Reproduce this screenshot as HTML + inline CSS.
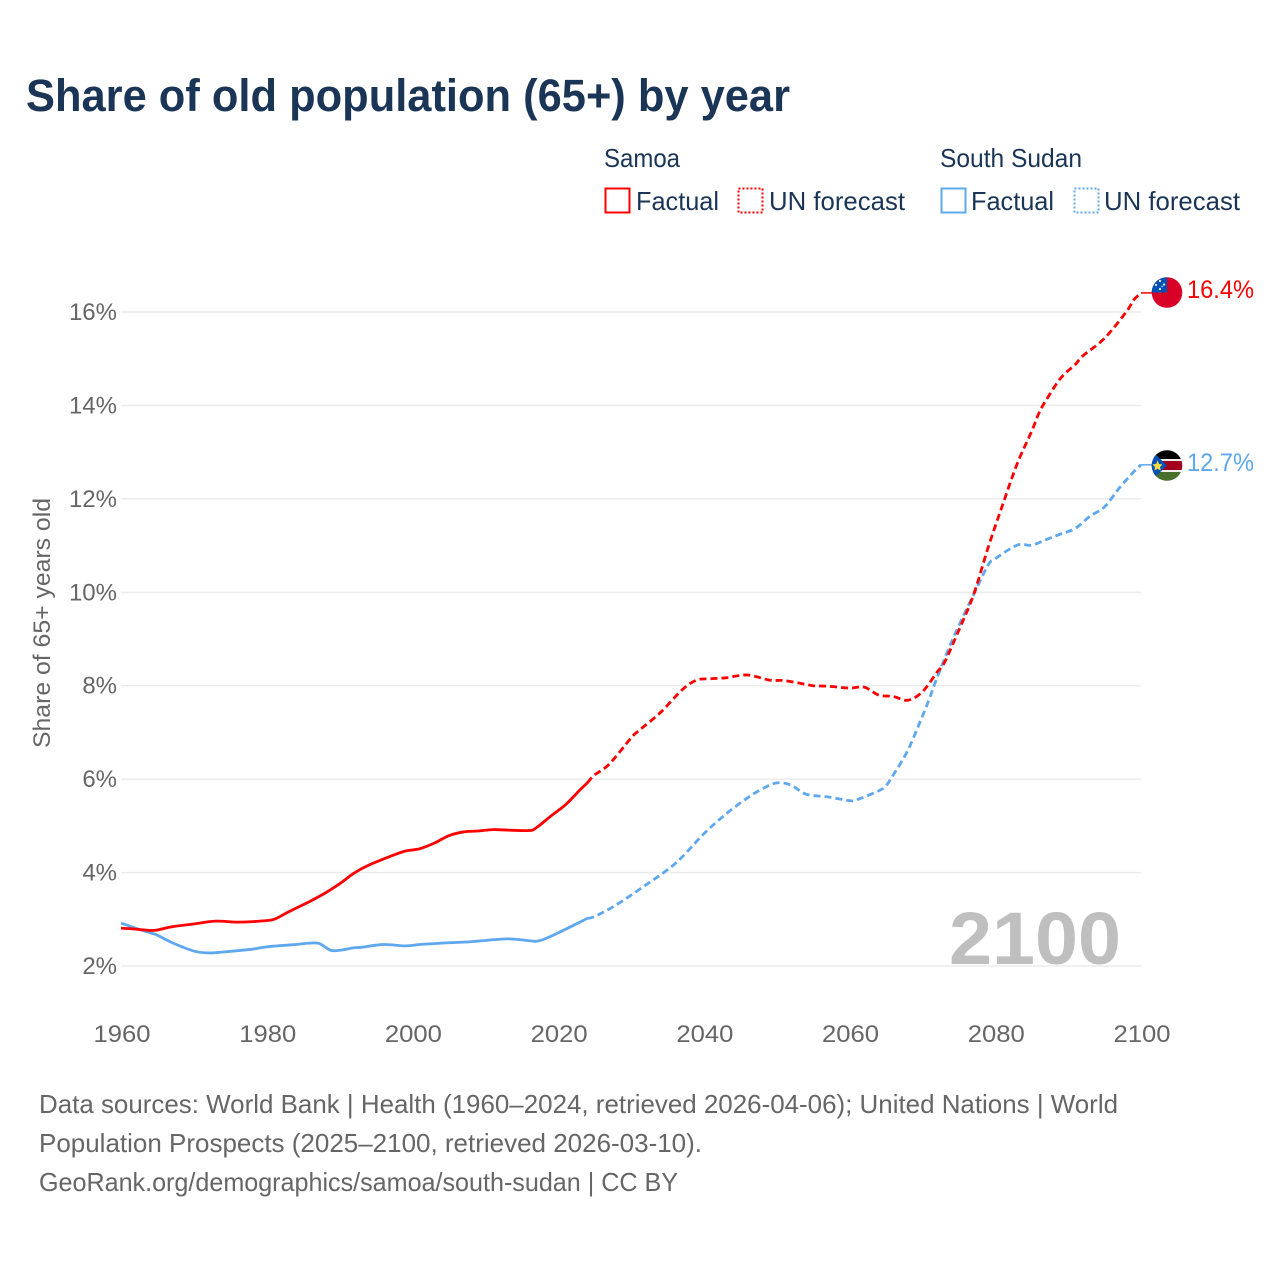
<!DOCTYPE html>
<html lang="en">
<head>
<meta charset="utf-8">
<title>Share of old population (65+) by year</title>
<style>
html,body{margin:0;padding:0;background:#fff}
svg{display:block}
text{font-family:"Liberation Sans",sans-serif}
</style>
</head>
<body>
<svg id="chart" xmlns="http://www.w3.org/2000/svg" width="1280" height="1280" viewBox="0 0 1280 1280">
  <rect width="1280" height="1280" fill="#fff"/>
  <text x="26" y="111" font-size="45" font-weight="700" fill="#1a3556" textLength="764" lengthAdjust="spacingAndGlyphs">Share of old population (65+) by year</text>

  <g font-size="26" fill="#1a3556">
    <text x="604" y="167" textLength="76" lengthAdjust="spacingAndGlyphs">Samoa</text>
    <text x="940" y="167" textLength="142" lengthAdjust="spacingAndGlyphs">South Sudan</text>
    <rect x="605.5" y="188.5" width="24" height="24" fill="none" stroke="#ff0000" stroke-width="2"/>
    <text x="636" y="210" textLength="83" lengthAdjust="spacingAndGlyphs">Factual</text>
    <rect x="738.5" y="188.5" width="24" height="24" fill="none" stroke="#ff0000" stroke-width="2" stroke-dasharray="2 2"/>
    <text x="769" y="210" textLength="136" lengthAdjust="spacingAndGlyphs">UN forecast</text>
    <rect x="941.5" y="188.5" width="24" height="24" fill="none" stroke="#5fa8ee" stroke-width="2"/>
    <text x="971" y="210" textLength="83" lengthAdjust="spacingAndGlyphs">Factual</text>
    <rect x="1074.5" y="188.5" width="24" height="24" fill="none" stroke="#5fa8ee" stroke-width="2" stroke-dasharray="2 2"/>
    <text x="1104" y="210" textLength="136" lengthAdjust="spacingAndGlyphs">UN forecast</text>
  </g>

  <g id="grid"></g>
  <g id="yticks" font-size="24" fill="#666"></g>
  <g id="xticks" font-size="24" fill="#666"></g>
  <text transform="translate(50,623) rotate(-90)" text-anchor="middle" font-size="24" fill="#666" textLength="250" lengthAdjust="spacingAndGlyphs">Share of 65+ years old</text>
  <text x="949" y="964" font-size="74" font-weight="700" fill="#bfbfbf" textLength="172" lengthAdjust="spacingAndGlyphs">2100</text>

  <g id="series"></g>

  <g>
    <clipPath id="clip-ws"><circle cx="1167" cy="292.5" r="15.3"/></clipPath>
    <g clip-path="url(#clip-ws)">
      <rect x="1150" y="275" width="34" height="35" fill="#d80027"/>
      <rect x="1150" y="275" width="17" height="17.5" fill="#0052b4"/>
      <g fill="#f0f0f0">
        <circle cx="1160" cy="281" r="1.1"/><circle cx="1156" cy="285" r="1.1"/><circle cx="1164" cy="284.5" r="1.1"/><circle cx="1160" cy="289" r="1.1"/><circle cx="1162" cy="286.5" r=".7"/>
      </g>
    </g>
  </g>
  <g>
    <clipPath id="clip-ss"><circle cx="1167" cy="465.5" r="15.3"/></clipPath>
    <g clip-path="url(#clip-ss)">
      <rect x="1150" y="448" width="34" height="35" fill="#f0f0f0"/>
      <rect x="1150" y="448" width="34" height="11" fill="#000"/>
      <rect x="1150" y="461" width="34" height="9" fill="#a2001d"/>
      <rect x="1150" y="472" width="34" height="11" fill="#496e2d"/>
      <polygon points="1151,450 1167,465.5 1151,481" fill="#0052b4"/>
      <polygon points="1157.5,460.5 1159,464 1162.5,464.5 1160,467 1160.8,470.5 1157.5,468.7 1154.5,470.5 1155,467 1152.5,464.5 1156,464" fill="#ffda44"/>
    </g>
  </g>

  <text x="1187" y="298" font-size="25" fill="#ff0000" textLength="67" lengthAdjust="spacingAndGlyphs">16.4%</text>
  <text x="1187" y="471" font-size="25" fill="#5fa8ee" textLength="67" lengthAdjust="spacingAndGlyphs">12.7%</text>

  <g font-size="26" fill="#666">
    <text x="39" y="1113" textLength="1079" lengthAdjust="spacingAndGlyphs">Data sources: World Bank | Health (1960–2024, retrieved 2026-04-06); United Nations | World</text>
    <text x="39" y="1152" textLength="663" lengthAdjust="spacingAndGlyphs">Population Prospects (2025–2100, retrieved 2026-03-10).</text>
    <text x="39" y="1191" textLength="639" lengthAdjust="spacingAndGlyphs">GeoRank.org/demographics/samoa/south-sudan | CC BY</text>
  </g>
</svg>
<script>
const yTickValues = [2, 4, 6, 8, 10, 12, 14, 16];
const xTickYears = [1960, 1980, 2000, 2020, 2040, 2060, 2080, 2100];

const samoaFactualYears = [1960,1962,1964,1965,1967,1970,1973,1976,1979,1981,1983,1986,1988,1990,1992,1994,1997,1999,2001,2003,2005,2007,2009,2011,2013,2016,2017,2019,2021,2023,2024];
const samoaFactualValues = [2.81,2.79,2.76,2.77,2.84,2.90,2.96,2.94,2.96,3.00,3.16,3.39,3.56,3.76,3.99,4.16,4.35,4.46,4.51,4.63,4.79,4.87,4.89,4.92,4.91,4.90,4.96,5.21,5.45,5.77,5.92];

const samoaForecastYears = [2024,2025,2027,2030,2031,2034,2037,2039,2041,2043,2046,2049,2051,2054,2055,2057,2060,2062,2064,2066,2068,2070,2072,2073,2075,2077,2079,2081,2083,2085,2086,2087,2089,2091,2092,2095,2098,2099,2100];
const samoaForecastValues = [5.92,6.09,6.32,6.88,7.03,7.42,7.91,8.12,8.15,8.17,8.23,8.12,8.11,8.03,8.00,7.99,7.95,7.97,7.80,7.77,7.69,7.87,8.29,8.49,9.19,9.94,10.95,11.87,12.75,13.45,13.84,14.12,14.59,14.88,15.06,15.44,16.01,16.26,16.41];

const sudanFactualYears = [1960,1962,1964,1965,1967,1970,1972,1974,1978,1980,1984,1987,1989,1992,1993,1996,1999,2001,2004,2008,2013,2016,2017,2018,2020,2023,2024];
const sudanFactualValues = [2.92,2.81,2.71,2.66,2.50,2.32,2.28,2.30,2.36,2.41,2.46,2.49,2.33,2.39,2.40,2.46,2.43,2.46,2.49,2.52,2.58,2.54,2.53,2.57,2.71,2.94,3.02];

const sudanForecastYears = [2024,2025,2028,2032,2035,2037,2040,2043,2046,2048,2050,2052,2054,2057,2060,2061,2064,2065,2066,2068,2070,2071,2072,2074,2076,2077,2079,2080,2083,2085,2087,2089,2091,2093,2095,2097,2099,2100];
const sudanForecastValues = [3.02,3.06,3.31,3.73,4.06,4.33,4.83,5.25,5.60,5.79,5.92,5.87,5.68,5.62,5.54,5.56,5.75,5.86,6.09,6.62,7.35,7.74,8.17,8.94,9.62,9.94,10.58,10.72,11.01,11.01,11.13,11.25,11.37,11.63,11.83,12.23,12.58,12.73];

const NS = 'http://www.w3.org/2000/svg';
const plotLeft = 121, plotRight = 1141, yearMin = 1960, yearMax = 2100;
const baseY = 966, pxPerPercent = 46.71;
function xScale(year) { return plotLeft + (year - yearMin) * (plotRight - plotLeft) / (yearMax - yearMin); }
function yScale(value) { return baseY - (value - 2) * pxPerPercent; }

function smoothPath(years, values) {
  const pts = years.map((yr, i) => [xScale(yr), yScale(values[i])]);
  let d = 'M' + pts[0][0].toFixed(2) + ' ' + pts[0][1].toFixed(2);
  for (let i = 0; i < pts.length - 1; i++) {
    const p0 = pts[Math.max(0, i - 1)], p1 = pts[i], p2 = pts[i + 1], p3 = pts[Math.min(pts.length - 1, i + 2)];
    const c1x = p1[0] + (p2[0] - p0[0]) / 6, c1y = p1[1] + (p2[1] - p0[1]) / 6;
    const c2x = p2[0] - (p3[0] - p1[0]) / 6, c2y = p2[1] - (p3[1] - p1[1]) / 6;
    d += 'C' + [c1x, c1y, c2x, c2y, p2[0], p2[1]].map(n => n.toFixed(2)).join(' ');
  }
  return d;
}

const gridGroup = document.getElementById('grid');
const yGroup = document.getElementById('yticks');
yTickValues.forEach(v => {
  const line = document.createElementNS(NS, 'line');
  
  
  line.setAttribute('x1', plotLeft);
  line.setAttribute('x2', plotRight);
  line.setAttribute('y1', yScale(v));
  line.setAttribute('y2', yScale(v));
  line.setAttribute('stroke', '#ececec');
  line.setAttribute('stroke-width', '1.5');
  gridGroup.appendChild(line);
  const label = document.createElementNS(NS, 'text');
  
  
  label.setAttribute('x', 117);
  label.setAttribute('y', yScale(v) + 8);
  label.setAttribute('text-anchor', 'end');
  label.textContent = v + '%';
  yGroup.appendChild(label);
});

const xGroup = document.getElementById('xticks');
xTickYears.forEach(yr => {
  const label = document.createElementNS(NS, 'text');
  
  
  label.setAttribute('x', xScale(yr) + 1);
  label.setAttribute('y', 1042);
  label.setAttribute('text-anchor', 'middle');
  label.setAttribute('textLength', '57');
  label.setAttribute('lengthAdjust', 'spacingAndGlyphs');
  label.textContent = yr;
  xGroup.appendChild(label);
});

const seriesGroup = document.getElementById('series');
function addLine(name, years, values, color, dashed) {
  const path = document.createElementNS(NS, 'path');
  
  
  path.setAttribute('d', smoothPath(years, values));
  path.setAttribute('fill', 'none');
  path.setAttribute('stroke', color);
  path.setAttribute('stroke-width', '2.8');
  path.setAttribute('stroke-linejoin', 'round');
  if (dashed) path.setAttribute('stroke-dasharray', '7 4');
  seriesGroup.appendChild(path);
}
function addConnector(name, value, color) {
  const line = document.createElementNS(NS, 'line');
  
  
  line.setAttribute('x1', xScale(yearMax));
  line.setAttribute('x2', xScale(yearMax) + 11);
  line.setAttribute('y1', yScale(value));
  line.setAttribute('y2', yScale(value));
  line.setAttribute('stroke', color);
  line.setAttribute('stroke-width', '1.5');
  seriesGroup.appendChild(line);
}
const RED = '#ff0000', BLUE = '#5fa8ee';
addLine('south-sudan-factual-line', sudanFactualYears, sudanFactualValues, BLUE, false);
addLine('south-sudan-forecast-line', sudanForecastYears, sudanForecastValues, BLUE, true);
addLine('samoa-factual-line', samoaFactualYears, samoaFactualValues, RED, false);
addLine('samoa-forecast-line', samoaForecastYears, samoaForecastValues, RED, true);
addConnector('samoa-flag-connector', samoaForecastValues[samoaForecastValues.length - 1], RED);
addConnector('south-sudan-flag-connector', sudanForecastValues[sudanForecastValues.length - 1], BLUE);
</script>
</body>
</html>
